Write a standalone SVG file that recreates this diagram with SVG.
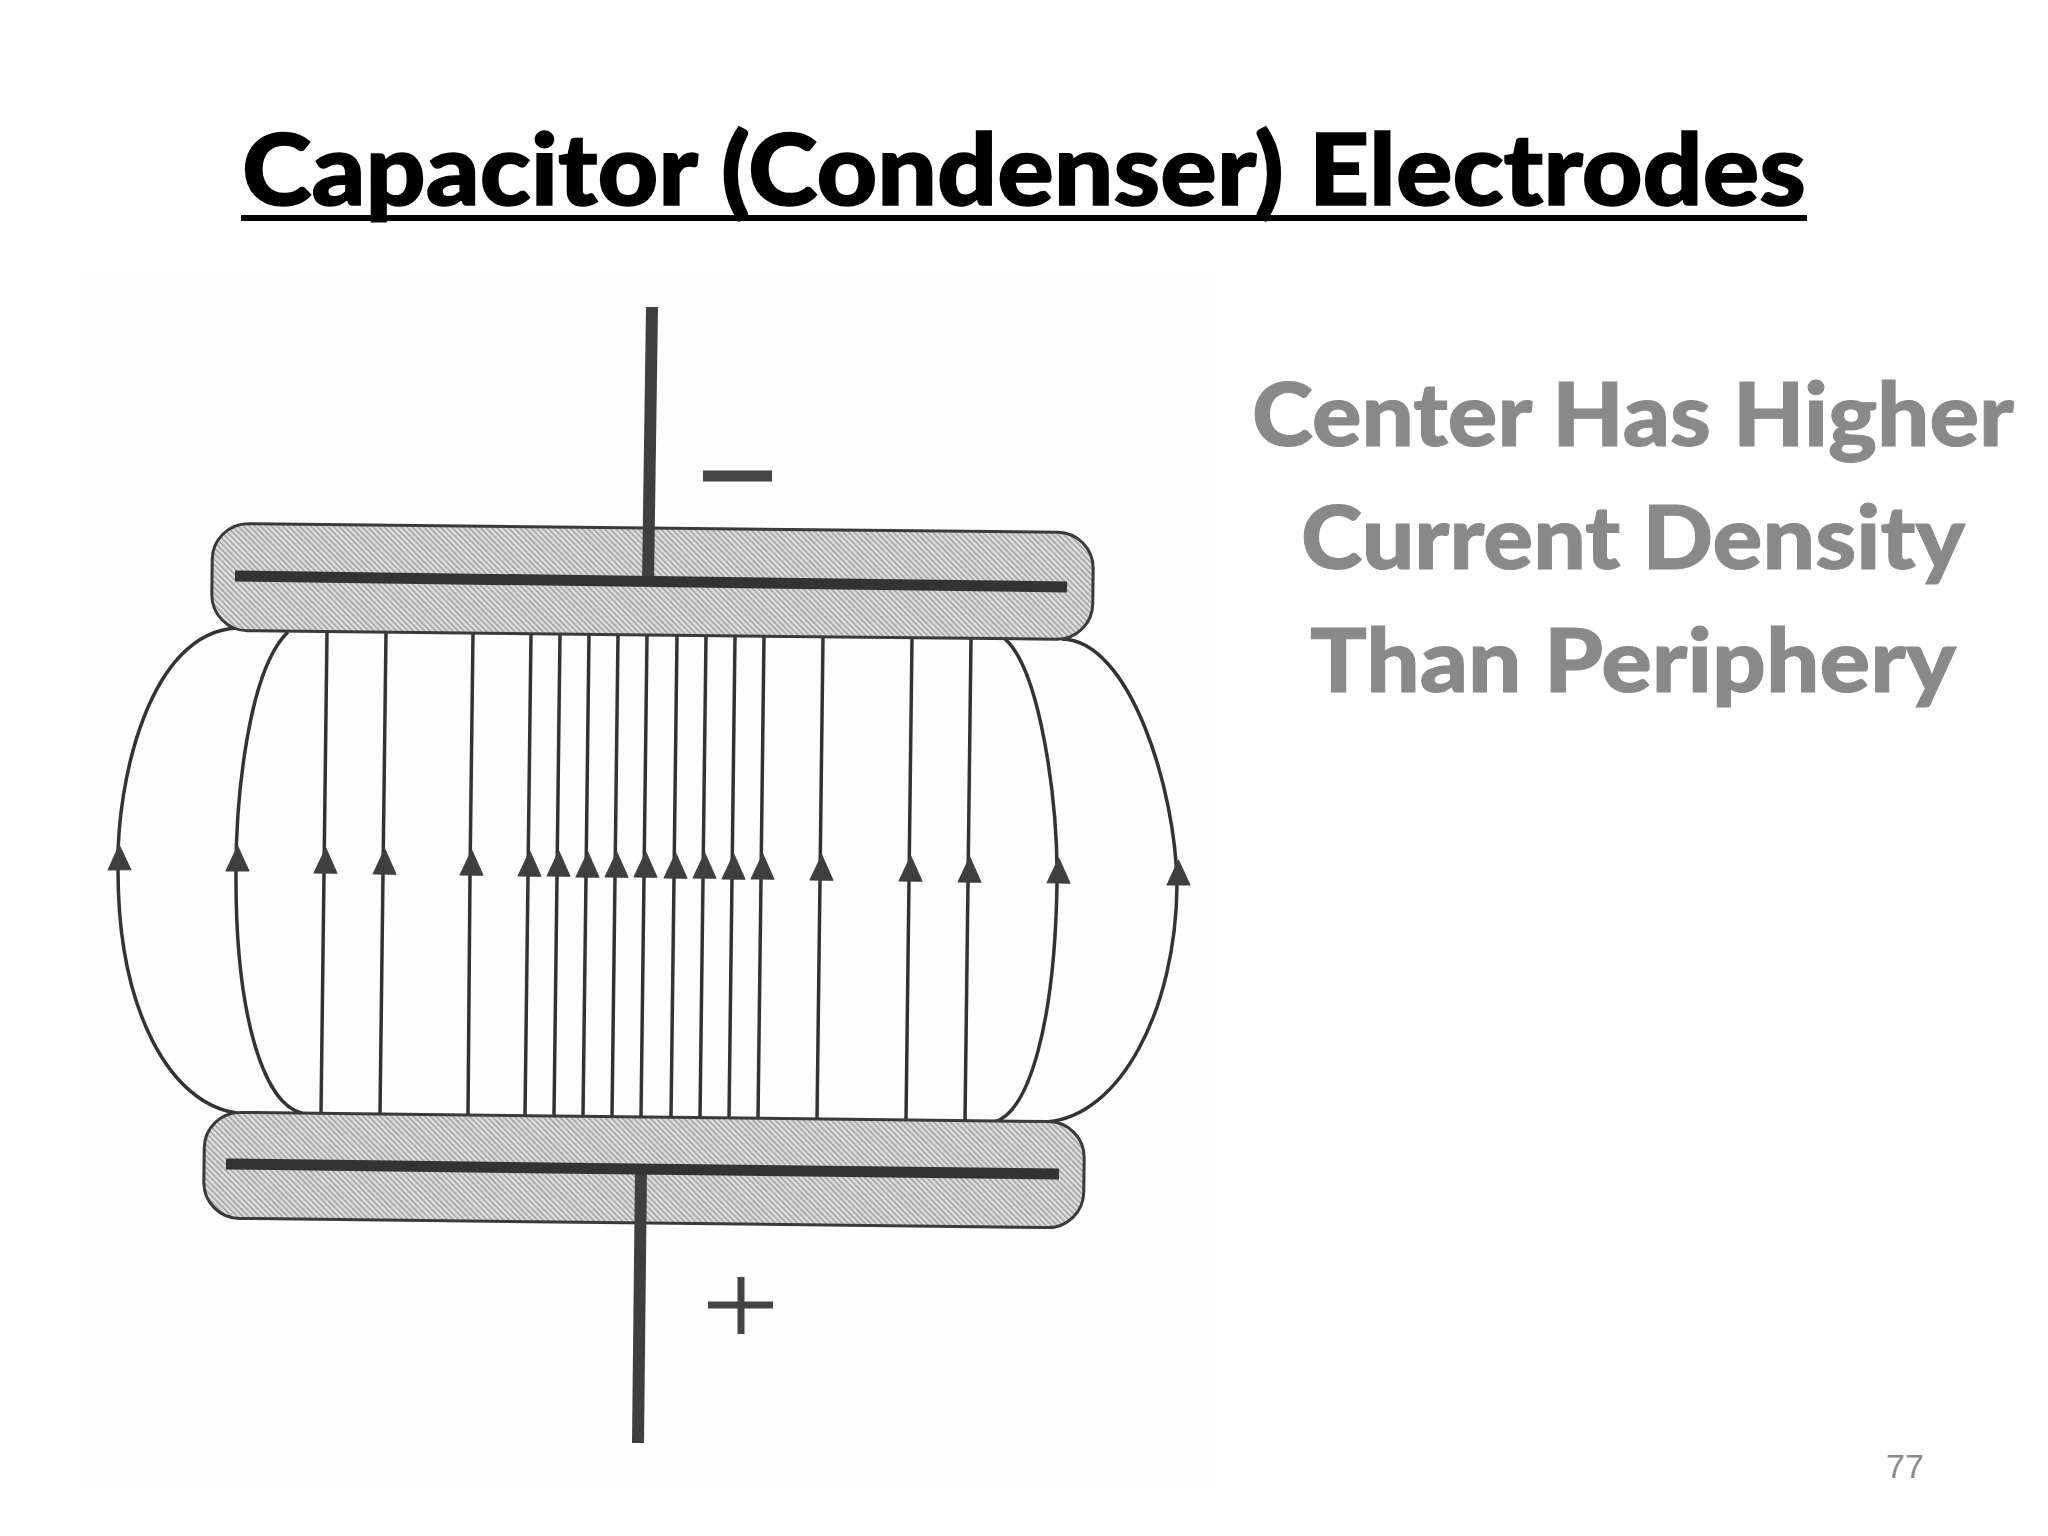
<svg xmlns="http://www.w3.org/2000/svg" width="2048" height="1536" viewBox="0 0 2048 1536">
<style>
.plate{fill:url(#hatch);stroke:#3a3a3a;stroke-width:3}
.bar{stroke:#333;stroke-width:11;fill:none}
.lead{stroke:#3f3f3f;stroke-width:12;fill:none}
.minus{stroke:#444;stroke-width:11;fill:none}
.plus{stroke:#444;stroke-width:7;fill:none}
.field{fill:none;stroke:#333;stroke-width:3.500;marker-mid:url(#arrow)}
.title{font:900 100px Lato,"Liberation Sans",sans-serif;fill:#000;stroke:#000;stroke-width:1.500;text-anchor:middle}
.note{font:900 88px Lato,"Liberation Sans",sans-serif;fill:#898989;stroke:#898989;stroke-width:1;text-anchor:middle}
.page{font:34px "Liberation Sans",Arial,sans-serif;fill:#8b8b8b;text-anchor:middle}
</style>
<defs>
<pattern id="hatch" width="4" height="4" patternUnits="userSpaceOnUse" patternTransform="rotate(-45)">
<rect width="4" height="4" fill="#dedede"/>
<rect width="1.500" height="4" fill="#9e9e9e"/>
</pattern>
<marker id="arrow" markerUnits="userSpaceOnUse" orient="auto" markerWidth="30" markerHeight="30" refX="0" refY="-1.500" overflow="visible">
<path d="M0,-11.500 L25,0 L0,11.500Z" fill="#3f3f3f" stroke="#3f3f3f" stroke-width="1" stroke-linejoin="round"/>
</marker>
</defs>
<rect width="2048" height="1536" fill="#fff"/>
<rect x="80" y="274" width="1135" height="1216" fill="#fefefe"/>
<g id="title">
<rect x="241" y="215" width="1566" height="6" fill="#000"/>
<text class="title" x="1024" y="205" textLength="1564" lengthAdjust="spacingAndGlyphs">Capacitor (Condenser) Electrodes</text>
</g>
<g id="note">
<text class="note" x="1633" y="446" textLength="762" lengthAdjust="spacingAndGlyphs">Center Has Higher</text>
<text class="note" x="1633" y="569" textLength="664" lengthAdjust="spacingAndGlyphs">Current Density</text>
<text class="note" x="1633" y="692" textLength="646" lengthAdjust="spacingAndGlyphs">Than Periphery</text>
</g>
<text id="page-number" class="page" x="1905" y="1478">77</text>
<g id="connectors">
<path class="field" d="M237,1113 C170,1104 118,1010 118,870 C116,780 150,632 237,628"/>
<path class="field" d="M302,1113 C262,1104 235,1010 236,871 C236,800 248,670 288,632"/>
<path class="field" d="M321,1114 L324,873 L327,632"/>
<path class="field" d="M380,1114 L383,874 L386,632"/>
<path class="field" d="M468,1115 L470,875 L473,633"/>
<path class="field" d="M525,1115 L528,876 L531,634"/>
<path class="field" d="M554,1116 L557,876 L560,634"/>
<path class="field" d="M583,1116 L586,877 L589,634"/>
<path class="field" d="M612,1117 L615,877 L618,635"/>
<path class="field" d="M641,1117 L644,877 L647,635"/>
<path class="field" d="M671,1118 L674,878 L677,635"/>
<path class="field" d="M700,1118 L703,878 L706,636"/>
<path class="field" d="M729,1118 L732,879 L735,636"/>
<path class="field" d="M758,1119 L761,879 L764,636"/>
<path class="field" d="M817,1120 L820,880 L823,637"/>
<path class="field" d="M906,1121 L909,881 L912,638"/>
<path class="field" d="M965,1121 L968,882 L971,639"/>
<path class="field" d="M994,1122 C1030,1112 1055,1020 1057,883 C1058,800 1040,670 1005,639"/>
<path class="field" d="M1046,1122 C1120,1117 1176,1010 1177,885 C1176,790 1130,640 1062,639"/>
</g>
<g id="top-electrode">
<rect class="plate" x="212" y="528" width="881" height="107" rx="36" transform="rotate(0.6 652.500 581.500)"/>
<path class="lead" d="M652,307 L648,582"/>
<path class="bar" d="M235,576 L1067,587"/>
<path class="minus" d="M703,476 H772"/>
</g>
<g id="bottom-electrode">
<rect class="plate" x="204" y="1117" width="880" height="106" rx="36" transform="rotate(0.65 644 1170)"/>
<path class="lead" d="M641,1168 L638,1443"/>
<path class="bar" d="M226,1164 L1059,1174"/>
<path class="plus" d="M708,1305 H773 M741,1277 V1334"/>
</g>
</svg>
